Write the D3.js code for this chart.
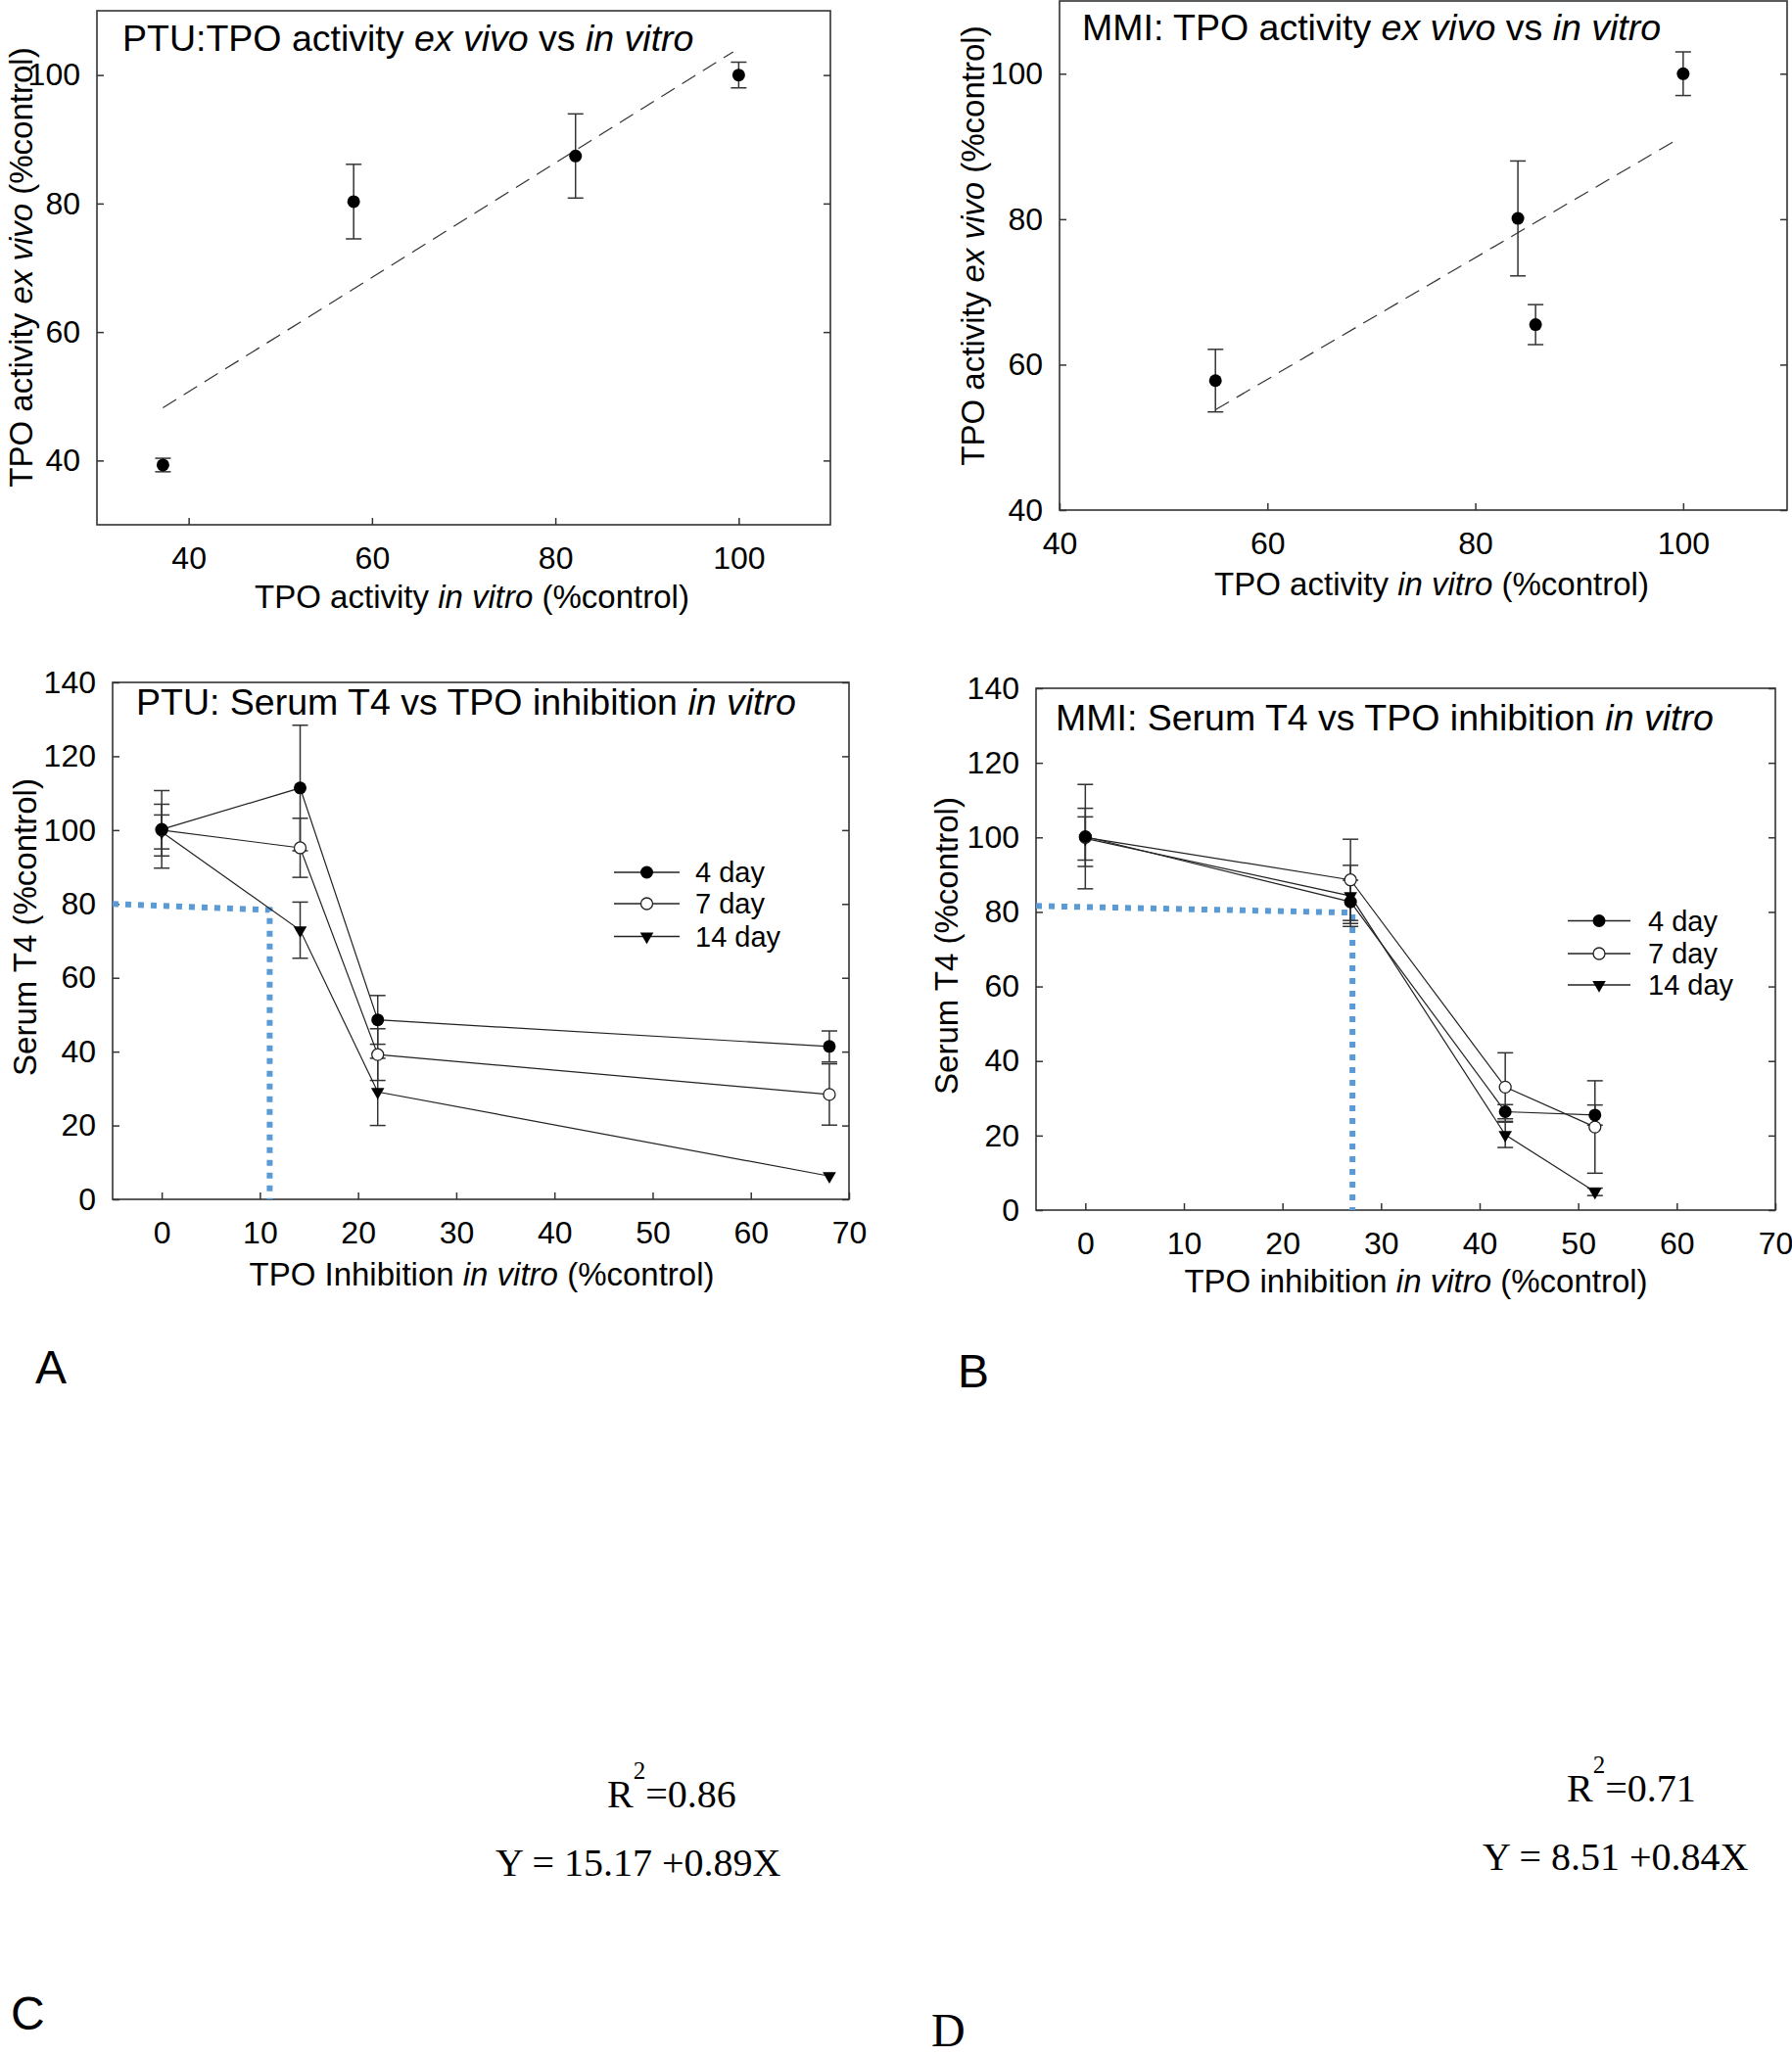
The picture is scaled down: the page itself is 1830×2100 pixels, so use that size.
<!DOCTYPE html>
<html>
<head>
<meta charset="utf-8">
<script src="https://cdn.jsdelivr.net/npm/d3@7"></script>
<style>
  body { margin: 0; background: #fff; }
  text { fill: #000; white-space: pre; }
</style>
</head>
<body>
<script>
// ---- data ----

// PTU: TPO activity ex vivo vs in vitro
const ptuVitro = [37.2, 58.0, 82.2, 100];
const ptuVivo = [39.3, 80.3, 87.4, 100];
const ptuVivoErr = [1.05, 5.8, 6.55, 2.0];
const ptuFit = [[37.2, 48.2], [99.4, 103.6]];

// MMI: TPO activity ex vivo vs in vitro
const mmiVitro = [55.0, 84.1, 85.8, 100];
const mmiVivo = [57.8, 80.1, 65.5, 100];
const mmiVivoErr = [4.3, 7.9, 2.75, 3.0];
const mmiFit = [[55.0, 53.8], [99.6, 91.1]];

// PTU: serum T4 vs TPO inhibition
const ptuInhib = [0, 14.1, 22.0, 68.0];
const ptuT4day4 = [100.2, 111.4, 48.6, 41.4];
const ptuT4day4Err = [10.5, 17.0, 6.6, 4.2];
const ptuT4day7 = [100, 95.2, 39.2, 28.4];
const ptuT4day7Err = [7.0, 8.0, 7.0, 8.3];
const ptuT4day14 = [99.5, 72.9, 29.1, 6.3];
const ptuT4day14Err = [4.6, 7.6, 9.1, 0];
const ptuCut = [[-5, 80], [11, 78.4], [11, 0]];

// MMI: serum T4 vs TPO inhibition
const mmiInhib = [0, 26.9, 42.6, 51.7];
const mmiT4day4 = [100.2, 82.7, 26.4, 25.5];
const mmiT4day4Err = [14.0, 5.8, 1.9, 2.7];
const mmiT4day7 = [100, 88.6, 33.0, 22.3];
const mmiT4day7Err = [7.8, 10.9, 9.2, 12.4];
const mmiT4day14 = [99.7, 84.3, 20.2, 4.9];
const mmiT4day14Err = [5.8, 8.2, 3.4, 1.0];
const mmiCut = [[-5, 81.6], [27.1, 79.8], [27.1, 0]];

const seriesNames = ["4 day", "7 day", "14 day"];
const activityTicks = [40, 60, 80, 100];
const inhibTicks = [0, 10, 20, 30, 40, 50, 60, 70];
const t4Ticks = [0, 20, 40, 60, 80, 100, 120, 140];

// ---- drawing ----
const sans = "Liberation Sans, Arial, sans-serif";
const serif = "Liberation Serif, Times New Roman, serif";

const svg = d3.select("body").append("svg")
  .attr("width", 1830)
  .attr("height", 2100)
  .attr("font-family", sans);

const ink = "#333";

function richText(sel, parts) {
  parts.forEach(([t, it]) => {
    sel.append("tspan").text(t).style("font-style", it ? "italic" : "normal");
  });
}

function makePanel(p) {
  const g = svg.append("g").attr("transform", `translate(${p.left},${p.top})`);
  const x = d3.scaleLinear().domain(p.xDomain).range([0, p.width]);
  const y = d3.scaleLinear().domain(p.yDomain).range([p.height, 0]);

  // y axis (ticks inward)
  const ya = g.append("g").call(d3.axisLeft(y).tickValues(p.yTicks).tickSize(-7).tickPadding(17));
  ya.select(".domain").remove();
  ya.selectAll("line").attr("stroke", ink).attr("stroke-width", 1.5);
  ya.selectAll("text").attr("font-size", 32).attr("font-family", sans);

  // mirrored ticks on the right
  const yr = g.append("g").attr("transform", `translate(${p.width},0)`)
    .call(d3.axisRight(y).tickValues(p.yTicks).tickSize(-7).tickFormat(""));
  yr.select(".domain").remove();
  yr.selectAll("line").attr("stroke", ink).attr("stroke-width", 1.5);

  const xa = g.append("g").attr("transform", `translate(0,${p.height})`)
    .call(d3.axisBottom(x).tickValues(p.xTicks).tickSize(-7).tickPadding(22));
  xa.select(".domain").remove();
  xa.selectAll("line").attr("stroke", ink).attr("stroke-width", 1.5);
  xa.selectAll("text").attr("font-size", 32).attr("font-family", sans);

  g.append("rect")
    .attr("width", p.width).attr("height", p.height)
    .attr("fill", "none").attr("stroke", ink).attr("stroke-width", 1.6);

  richText(g.append("text").attr("x", p.titlePos[0]).attr("y", p.titlePos[1])
    .attr("font-size", 37.5), p.title);

  richText(g.append("text")
    .attr("transform", `translate(${p.yLabelPos[0]},${p.yLabelPos[1]}) rotate(-90)`)
    .attr("text-anchor", "middle").attr("font-size", 33), p.yLabel);

  richText(g.append("text")
    .attr("x", p.xLabelPos[0]).attr("y", p.height + p.xLabelPos[1])
    .attr("text-anchor", "middle").attr("font-size", 33), p.xLabel);

  return { g, x, y };
}

function errorBars(pn, xs, ys, errs) {
  const cap = 8;
  const eg = pn.g.append("g").attr("stroke", ink).attr("stroke-width", 1.5);
  xs.forEach((xv, i) => {
    if (!errs[i]) return;
    const cx = pn.x(xv), hi = pn.y(ys[i] + errs[i]), lo = pn.y(ys[i] - errs[i]);
    eg.append("line").attr("x1", cx).attr("x2", cx).attr("y1", hi).attr("y2", lo);
    eg.append("line").attr("x1", cx - cap).attr("x2", cx + cap).attr("y1", hi).attr("y2", hi);
    eg.append("line").attr("x1", cx - cap).attr("x2", cx + cap).attr("y1", lo).attr("y2", lo);
  });
}

function marker(sel, kind) {
  if (kind === 0) {
    sel.append("circle").attr("r", 6.5).attr("fill", "#000");
  } else if (kind === 1) {
    sel.append("circle").attr("r", 6).attr("fill", "#fff").attr("stroke", "#222").attr("stroke-width", 1.3);
  } else {
    sel.append("path").attr("d", d3.symbol(d3.symbolTriangle, 80)())
      .attr("transform", "rotate(180)").attr("fill", "#000");
  }
}

function points(pn, xs, ys, kind) {
  xs.forEach((xv, i) => {
    marker(pn.g.append("g").attr("transform", `translate(${pn.x(xv)},${pn.y(ys[i])})`), kind);
  });
}

function connect(pn, xs, ys) {
  pn.g.append("path")
    .datum(xs.map((xv, i) => [xv, ys[i]]))
    .attr("fill", "none").attr("stroke", "#222").attr("stroke-width", 1.2)
    .attr("d", d3.line().x(d => pn.x(d[0])).y(d => pn.y(d[1])));
}

function fitLine(pn, pts) {
  pn.g.append("path")
    .datum(pts)
    .attr("fill", "none").attr("stroke", ink).attr("stroke-width", 1.2)
    .attr("stroke-dasharray", "16,9")
    .attr("d", d3.line().x(d => pn.x(d[0])).y(d => pn.y(d[1])));
}

function cutLine(pn, pts) {
  pn.g.append("path")
    .datum(pts)
    .attr("fill", "none").attr("stroke", "#5b9bd5").attr("stroke-width", 6)
    .attr("stroke-dasharray", "6,7")
    .attr("d", d3.line().x(d => pn.x(d[0])).y(d => pn.y(d[1])));
}

function legend(pn, pos) {
  seriesNames.forEach((name, i) => {
    const lg = pn.g.append("g").attr("transform", `translate(${pos.x},${pos.y[i]})`);
    lg.append("line").attr("x1", 0).attr("x2", pos.len)
      .attr("stroke", "#222").attr("stroke-width", 1.3);
    marker(lg.append("g").attr("transform", `translate(${pos.len / 2},0)`), i);
    lg.append("text").attr("x", pos.text).attr("dy", "0.35em")
      .attr("font-size", 29).text(name);
  });
}

// Panel 1: PTU ex vivo vs in vitro
const p1 = makePanel({
  left: 99, top: 11, width: 749, height: 525,
  xDomain: [30, 110], yDomain: [30, 110],
  xTicks: activityTicks, yTicks: activityTicks,
  titlePos: [26, 41],
  title: [["PTU:TPO activity ", false], ["ex vivo", true], [" vs ", false], ["in vitro", true]],
  yLabelPos: [-66, 262],
  yLabel: [["TPO activity ", false], ["ex vivo", true], [" (%control)", false]],
  xLabelPos: [383, 85],
  xLabel: [["TPO activity ", false], ["in vitro", true], [" (%control)", false]]
});
fitLine(p1, ptuFit);
errorBars(p1, ptuVitro, ptuVivo, ptuVivoErr);
points(p1, ptuVitro, ptuVivo, 0);

// Panel 2: MMI ex vivo vs in vitro
const p2 = makePanel({
  left: 1082, top: 1, width: 743, height: 520,
  xDomain: [40, 110], yDomain: [40, 110],
  xTicks: activityTicks, yTicks: activityTicks,
  titlePos: [23, 40],
  title: [["MMI: TPO activity ", false], ["ex vivo", true], [" vs ", false], ["in vitro", true]],
  yLabelPos: [-77, 250],
  yLabel: [["TPO activity ", false], ["ex vivo", true], [" (%control)", false]],
  xLabelPos: [380, 87],
  xLabel: [["TPO activity ", false], ["in vitro", true], [" (%control)", false]]
});
fitLine(p2, mmiFit);
errorBars(p2, mmiVitro, mmiVivo, mmiVivoErr);
points(p2, mmiVitro, mmiVivo, 0);

// Panel 3: PTU serum T4
const p3 = makePanel({
  left: 115, top: 697, width: 752, height: 528,
  xDomain: [-5, 70], yDomain: [0, 140],
  xTicks: inhibTicks, yTicks: t4Ticks,
  titlePos: [24, 33],
  title: [["PTU: Serum T4 vs TPO inhibition ", false], ["in vitro", true]],
  yLabelPos: [-78, 250],
  yLabel: [["Serum T4 (%control)", false]],
  xLabelPos: [377, 88],
  xLabel: [["TPO Inhibition ", false], ["in vitro", true], [" (%control)", false]]
});
cutLine(p3, ptuCut);
[[ptuT4day4, ptuT4day4Err], [ptuT4day7, ptuT4day7Err], [ptuT4day14, ptuT4day14Err]].forEach(([ys, es]) => {
  connect(p3, ptuInhib, ys);
  errorBars(p3, ptuInhib, ys, es);
});
[ptuT4day14, ptuT4day7, ptuT4day4].forEach((ys, i) => points(p3, ptuInhib, ys, 2 - i));
legend(p3, { x: 512, len: 67, text: 83, y: [194, 226, 259.5] });

// Panel 4: MMI serum T4
const p4 = makePanel({
  left: 1058, top: 703, width: 755, height: 533,
  xDomain: [-5, 70], yDomain: [0, 140],
  xTicks: inhibTicks, yTicks: t4Ticks,
  titlePos: [20, 43],
  title: [["MMI: Serum T4 vs TPO inhibition ", false], ["in vitro", true]],
  yLabelPos: [-80, 263],
  yLabel: [["Serum T4 (%control)", false]],
  xLabelPos: [388, 84],
  xLabel: [["TPO inhibition ", false], ["in vitro", true], [" (%control)", false]]
});
cutLine(p4, mmiCut);
[[mmiT4day4, mmiT4day4Err], [mmiT4day7, mmiT4day7Err], [mmiT4day14, mmiT4day14Err]].forEach(([ys, es]) => {
  connect(p4, mmiInhib, ys);
  errorBars(p4, mmiInhib, ys, es);
});
[mmiT4day14, mmiT4day7, mmiT4day4].forEach((ys, i) => points(p4, mmiInhib, ys, 2 - i));
legend(p4, { x: 543, len: 64, text: 82, y: [237.5, 271, 303] });

// panel letters
[["A", 36, 1413, sans], ["B", 978, 1417, sans],
 ["C", 11, 2073, sans], ["D", 951, 2090, serif]].forEach(([t, lx, ly, f]) => {
  svg.append("text").attr("x", lx).attr("y", ly)
    .attr("font-size", 48).attr("font-family", f).text(t);
});

// regression statistics
function stats(rx, ry, r2, yx, yy, eq) {
  const t = svg.append("text").attr("x", rx).attr("y", ry)
    .attr("font-family", serif).attr("font-size", 40);
  t.append("tspan").text("R");
  t.append("tspan").attr("dy", -29).attr("font-size", 25).text("2");
  t.append("tspan").attr("dy", 29).text(r2);
  svg.append("text").attr("x", yx).attr("y", yy)
    .attr("font-family", serif).attr("font-size", 40).text(eq);
}
stats(620, 1846, "=0.86", 506, 1916, "Y = 15.17 +0.89X");
stats(1600, 1840, "=0.71", 1514, 1910, "Y = 8.51 +0.84X");
</script>
</body>
</html>
